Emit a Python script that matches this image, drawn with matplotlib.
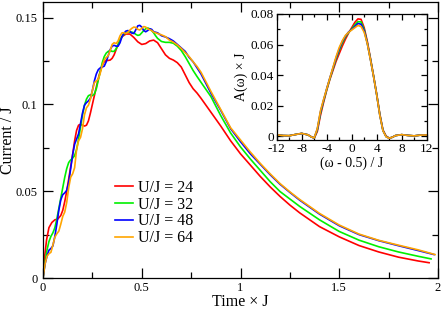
import matplotlib
matplotlib.use("Agg")
import matplotlib.pyplot as plt
from matplotlib.ticker import MultipleLocator, FuncFormatter

plt.rcParams['font.family'] = ['Liberation Serif', 'DejaVu Serif']

# ---------------- main panel data ----------------
labels = ["U/J = 24", "U/J = 32", "U/J = 48", "U/J = 64"]
colors = ["#ff0000", "#00f000", "#0000ff", "#ffa500"]

t_u24 = [0, 0.008, 0.018, 0.03, 0.045, 0.06, 0.075, 0.09, 0.1, 0.11, 0.12, 0.13, 0.14, 0.15, 0.16,
         0.17, 0.18, 0.19, 0.2, 0.21, 0.22, 0.23, 0.24, 0.25, 0.26, 0.27, 0.28, 0.29, 0.3, 0.31,
         0.32, 0.33, 0.34, 0.35, 0.36, 0.37, 0.38, 0.39, 0.4, 0.42, 0.44, 0.46, 0.48, 0.5, 0.52,
         0.54, 0.56, 0.58, 0.6, 0.62, 0.64, 0.66, 0.68, 0.7, 0.72, 0.74, 0.76, 0.78, 0.8, 0.85,
         0.9, 0.95, 1.0, 1.05, 1.1, 1.15, 1.2, 1.25, 1.3, 1.4, 1.5, 1.6, 1.7, 1.8, 1.9, 1.955]
i_u24 = [0, 0.012, 0.022, 0.029, 0.032, 0.0335, 0.034, 0.036, 0.039, 0.044, 0.05, 0.057, 0.064,
         0.071, 0.079, 0.085, 0.088, 0.0885, 0.088, 0.0875, 0.088, 0.0905, 0.095, 0.1, 0.105, 0.11,
         0.115, 0.119, 0.1225, 0.1245, 0.1252, 0.1253, 0.1255, 0.1265, 0.1285, 0.1315, 0.1345,
         0.137, 0.139, 0.1405, 0.1405, 0.1385, 0.136, 0.1345, 0.135, 0.1365, 0.137, 0.1355, 0.132,
         0.1285, 0.1265, 0.1255, 0.124, 0.1215, 0.117, 0.1125, 0.109, 0.1065, 0.1035, 0.0955,
         0.0875, 0.079, 0.0715, 0.065, 0.0585, 0.0525, 0.047, 0.042, 0.0375, 0.0296, 0.0237,
         0.0187, 0.0150, 0.0120, 0.0098, 0.0088]

t_u32 = [0, 0.01, 0.02, 0.03, 0.04, 0.05, 0.06, 0.07, 0.08, 0.09, 0.1, 0.11, 0.12, 0.13, 0.14, 0.15,
         0.16, 0.17, 0.18, 0.19, 0.2, 0.21, 0.22, 0.23, 0.24, 0.25, 0.26, 0.27, 0.28, 0.29, 0.3,
         0.31, 0.32, 0.33, 0.34, 0.35, 0.36, 0.37, 0.38, 0.39, 0.4, 0.41, 0.42, 0.43, 0.44, 0.45,
         0.46, 0.47, 0.48, 0.49, 0.5, 0.51, 0.52, 0.53, 0.54, 0.55, 0.56, 0.57, 0.58, 0.6, 0.62,
         0.64, 0.66, 0.68, 0.7, 0.72, 0.74, 0.76, 0.78, 0.8, 0.85, 0.9, 0.95, 1.0, 1.05, 1.1, 1.15,
         1.2, 1.25, 1.3, 1.4, 1.5, 1.6, 1.7, 1.8, 1.9, 1.965]
i_u32 = [0, 0.009, 0.016, 0.021, 0.024, 0.026, 0.029, 0.034, 0.040, 0.046, 0.052, 0.058, 0.063,
         0.0665, 0.068, 0.069, 0.0705, 0.074, 0.080, 0.087, 0.094, 0.0995, 0.103, 0.105, 0.1055,
         0.105, 0.106, 0.109, 0.114, 0.119, 0.124, 0.1275, 0.1295, 0.1305, 0.131, 0.1305, 0.1305,
         0.132, 0.1345, 0.137, 0.139, 0.1405, 0.1413, 0.1416, 0.1416, 0.1416, 0.1412, 0.1403,
         0.1397, 0.14, 0.1412, 0.1425, 0.1435, 0.144, 0.1435, 0.1425, 0.1412, 0.1395, 0.138,
         0.1362, 0.1357, 0.1357, 0.1352, 0.1335, 0.131, 0.1275, 0.1235, 0.1195, 0.116, 0.1127,
         0.1045, 0.0935, 0.0835, 0.0755, 0.0685, 0.062, 0.0555, 0.0498, 0.0455, 0.0412, 0.0335,
         0.0268, 0.0218, 0.0180, 0.0150, 0.0125, 0.0110]

t_u48 = [0, 0.01, 0.02, 0.03, 0.04, 0.05, 0.06, 0.07, 0.08, 0.09, 0.1, 0.11, 0.12, 0.13, 0.14, 0.15,
         0.16, 0.17, 0.18, 0.19, 0.2, 0.21, 0.22, 0.23, 0.24, 0.25, 0.26, 0.27, 0.28, 0.29, 0.3,
         0.31, 0.32, 0.33, 0.34, 0.35, 0.36, 0.37, 0.38, 0.39, 0.4, 0.41, 0.42, 0.43, 0.44, 0.45,
         0.46, 0.47, 0.48, 0.49, 0.5, 0.51, 0.52, 0.53, 0.54, 0.55, 0.56, 0.57, 0.58, 0.6, 0.62,
         0.64, 0.66, 0.68, 0.7, 0.72, 0.74, 0.76, 0.78, 0.8, 0.85, 0.9, 0.95, 1.0, 1.05, 1.1, 1.15,
         1.2, 1.25, 1.3, 1.4, 1.5, 1.6, 1.7, 1.8, 1.9, 1.98]
i_u48 = [0, 0.008, 0.0125, 0.016, 0.017, 0.0185, 0.024, 0.031, 0.039, 0.045, 0.048, 0.049, 0.0505,
         0.055, 0.063, 0.071, 0.077, 0.080, 0.083, 0.089, 0.095, 0.0995, 0.101, 0.102, 0.1035,
         0.108, 0.1135, 0.1175, 0.12, 0.121, 0.1215, 0.122, 0.1245, 0.128, 0.1315, 0.1335, 0.134,
         0.1335, 0.1335, 0.1355, 0.139, 0.141, 0.1422, 0.1425, 0.142, 0.141, 0.1408, 0.143, 0.1452,
         0.1455, 0.1445, 0.1425, 0.1418, 0.1425, 0.1435, 0.1432, 0.1418, 0.1415, 0.1412, 0.1395,
         0.1388, 0.1378, 0.1365, 0.1345, 0.1325, 0.1305, 0.127, 0.1245, 0.121, 0.1175, 0.1065,
         0.0965, 0.0860, 0.0785, 0.0715, 0.0655, 0.0595, 0.054, 0.0493, 0.0448, 0.0368, 0.0301,
         0.0250, 0.0215, 0.0186, 0.0158, 0.0135]

t_u64 = [0, 0.01, 0.02, 0.03, 0.04, 0.05, 0.06, 0.07, 0.08, 0.09, 0.1, 0.11, 0.12, 0.13, 0.14, 0.15,
         0.16, 0.17, 0.18, 0.19, 0.2, 0.21, 0.22, 0.23, 0.24, 0.25, 0.26, 0.27, 0.28, 0.29, 0.3,
         0.31, 0.32, 0.33, 0.34, 0.35, 0.36, 0.37, 0.38, 0.39, 0.4, 0.41, 0.42, 0.43, 0.44, 0.45,
         0.46, 0.47, 0.48, 0.49, 0.5, 0.51, 0.52, 0.53, 0.54, 0.55, 0.56, 0.57, 0.58, 0.6, 0.62,
         0.64, 0.66, 0.68, 0.7, 0.72, 0.74, 0.76, 0.78, 0.8, 0.85, 0.9, 0.95, 1.0, 1.05, 1.1, 1.15,
         1.2, 1.25, 1.3, 1.4, 1.5, 1.6, 1.7, 1.8, 1.9, 1.985]
i_u64 = [0, 0.008, 0.0125, 0.014, 0.0148, 0.019, 0.0235, 0.0255, 0.027, 0.031, 0.0355, 0.038,
         0.0435, 0.052, 0.058, 0.060, 0.0635, 0.074, 0.079, 0.081, 0.086, 0.094, 0.098, 0.0995,
         0.103, 0.108, 0.1125, 0.1135, 0.1145, 0.118, 0.1225, 0.1255, 0.127, 0.128, 0.131, 0.1345,
         0.1355, 0.135, 0.1365, 0.1395, 0.1412, 0.1412, 0.1408, 0.1415, 0.1428, 0.1438, 0.1445,
         0.1443, 0.1432, 0.1428, 0.1438, 0.1448, 0.1445, 0.1435, 0.143, 0.1425, 0.1416, 0.1412,
         0.1408, 0.14, 0.139, 0.137, 0.1358, 0.1342, 0.1322, 0.1298, 0.1275, 0.1245, 0.1218,
         0.1185, 0.1075, 0.097, 0.0865, 0.0795, 0.0725, 0.066, 0.060, 0.0544, 0.0496, 0.0452,
         0.0372, 0.0305, 0.0253, 0.0217, 0.0189, 0.0162, 0.0135]

# ---------------- inset data ----------------
w = [-12, -11, -10, -9, -8, -7, -6.5, -6, -5.5, -5, -4.5, -4, -3.5, -3, -2.5, -2, -1.5, -1, -0.5,
     0, 0.5, 1, 1.5, 2, 2.5, 3, 3.5, 4, 4.5, 5, 5.5, 6, 6.5, 7, 8, 9, 10, 11, 12]
a_u24 = [0.0008, 0.0003, 0.0002, 0.0010, 0.0017, 0.0008, -0.0004, -0.0015, 0.003, 0.0135, 0.022,
         0.030, 0.037, 0.043, 0.049, 0.054, 0.059, 0.0635, 0.0675, 0.071, 0.0745, 0.0768, 0.0765,
         0.071, 0.062, 0.051, 0.0395, 0.0275, 0.0145, 0.004, 0.0, -0.0013, -0.0008, 0.0003,
         0.0009, 0.0004, 0.0001, 0.0006, 0.0007]
a_u32 = [0.0008, 0.0003, 0.0002, 0.0010, 0.0017, 0.0008, -0.0005, -0.0013, 0.004, 0.015, 0.023,
         0.0305, 0.0375, 0.044, 0.0505, 0.056, 0.061, 0.065, 0.0678, 0.0702, 0.0728, 0.0750,
         0.0748, 0.0698, 0.061, 0.0505, 0.0392, 0.0272, 0.014, 0.0037, -0.0003, -0.0014, -0.0008,
         0.0003, 0.0009, 0.0004, 0.0001, 0.0006, 0.0007]
a_u48 = [0.0008, 0.0003, 0.0002, 0.0010, 0.0017, 0.0008, -0.0005, -0.0012, 0.0045, 0.0158, 0.0235,
         0.031, 0.038, 0.0445, 0.0512, 0.057, 0.062, 0.0655, 0.0682, 0.0698, 0.0718, 0.0738,
         0.0733, 0.069, 0.0607, 0.0502, 0.039, 0.027, 0.0137, 0.0036, -0.0004, -0.0015, -0.0008,
         0.0003, 0.0009, 0.0004, 0.0001, 0.0006, 0.0007]
a_u64 = [0.0008, 0.0003, 0.0002, 0.0010, 0.0017, 0.0008, -0.0005, -0.0012, 0.005, 0.0165, 0.024,
         0.031, 0.038, 0.045, 0.052, 0.058, 0.0625, 0.066, 0.068, 0.0695, 0.071, 0.0725, 0.0718,
         0.068, 0.0605, 0.050, 0.039, 0.027, 0.0135, 0.0035, -0.0005, -0.0015, -0.0008, 0.0003,
         0.0009, 0.0004, 0.0001, 0.0006, 0.0007]

main_t = [t_u24, t_u32, t_u48, t_u64]
main_i = [i_u24, i_u32, i_u48, i_u64]
inset_a = [a_u24, a_u32, a_u48, a_u64]

fmt = FuncFormatter(lambda v, p: "%g" % round(v, 6))

fig = plt.figure(figsize=(4.43, 3.09), dpi=100)
ax = fig.add_axes([0.0971, 0.1003, 0.8916, 0.8947])

for tt, ii, c, lab in zip(main_t, main_i, colors, labels):
    ax.plot(tt, ii, color=c, lw=1.2, label=lab)

ax.set_xlim(0, 2)
ax.set_ylim(0, 0.1592)
ax.xaxis.set_major_locator(MultipleLocator(0.5))
ax.xaxis.set_minor_locator(MultipleLocator(0.25))
ax.yaxis.set_major_locator(MultipleLocator(0.05))
ax.yaxis.set_minor_locator(MultipleLocator(0.025))
ax.xaxis.set_major_formatter(fmt)
ax.yaxis.set_major_formatter(fmt)
ax.tick_params(which='both', direction='in', top=True, right=True, width=0.9, labelsize=9)
ax.tick_params(axis='x', pad=3)
ax.tick_params(axis='y', pad=4)
ax.tick_params(which='major', length=7)
ax.tick_params(which='minor', length=4.5)
for s in ax.spines.values():
    s.set_linewidth(0.9)
ax.set_xlabel("Time × J", fontsize=11.5)
ax.set_ylabel("Current / J", fontsize=11.5)
ax.xaxis.set_label_coords(0.5, -0.058)
ax.yaxis.set_label_coords(-0.068, 0.5)

leg = ax.legend(loc='center left', bbox_to_anchor=(115 / 443, 1 - 213 / 309),
                bbox_transform=fig.transFigure, frameon=False, fontsize=11.5,
                handlelength=1.15, handletextpad=0.3, labelspacing=0.05, borderpad=0,
                borderaxespad=0)

# ---------------- inset ----------------
axin = fig.add_axes([276.7 / 443, 1 - 140 / 309, 150 / 443, 126 / 309])
for aa, c in zip(inset_a, colors):
    axin.plot(w, aa, color=c, lw=1.2)
axin.set_xlim(-12, 12)
axin.set_ylim(-0.0026, 0.08)
axin.xaxis.set_major_locator(MultipleLocator(4))
axin.xaxis.set_minor_locator(MultipleLocator(2))
axin.yaxis.set_major_locator(MultipleLocator(0.02))
axin.yaxis.set_minor_locator(MultipleLocator(0.01))
axin.xaxis.set_major_formatter(fmt)
axin.yaxis.set_major_formatter(fmt)
axin.tick_params(which='both', direction='in', top=True, right=True, width=0.9, labelsize=9.5, pad=2)
axin.tick_params(which='major', length=4)
axin.tick_params(which='minor', length=2.5)
for s in axin.spines.values():
    s.set_linewidth(0.9)
axin.set_xlabel("(ω - 0.5) / J", fontsize=10, labelpad=1)
axin.set_ylabel("A(ω) × J", fontsize=10, labelpad=2)

fig.savefig("out.png", dpi=100)
